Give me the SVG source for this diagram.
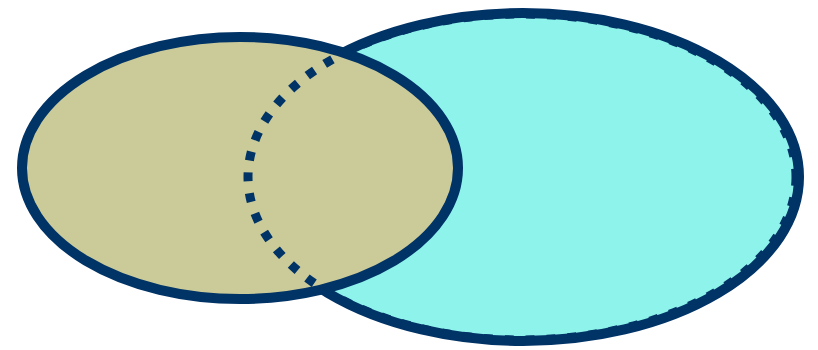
<svg xmlns="http://www.w3.org/2000/svg" width="818" height="350" viewBox="0 0 818 350">
<style>
.line{stroke:#003366;stroke-width:10;}
.dash{fill:none;stroke:#003366;stroke-width:9;stroke-dasharray:9 12;}
</style>
<rect width="818" height="350" fill="#ffffff"/>
<g id="set-b">
<ellipse cx="523" cy="177" rx="276" ry="164" fill="#8ef3eb" class="line"/>
</g>
<g id="set-a">
<ellipse cx="240" cy="168" rx="218" ry="131" fill="#cbcb9a" class="line"/>
</g>
<g id="connectors">
<ellipse cx="522" cy="177" rx="274" ry="163" class="dash"/>
</g>
</svg>
